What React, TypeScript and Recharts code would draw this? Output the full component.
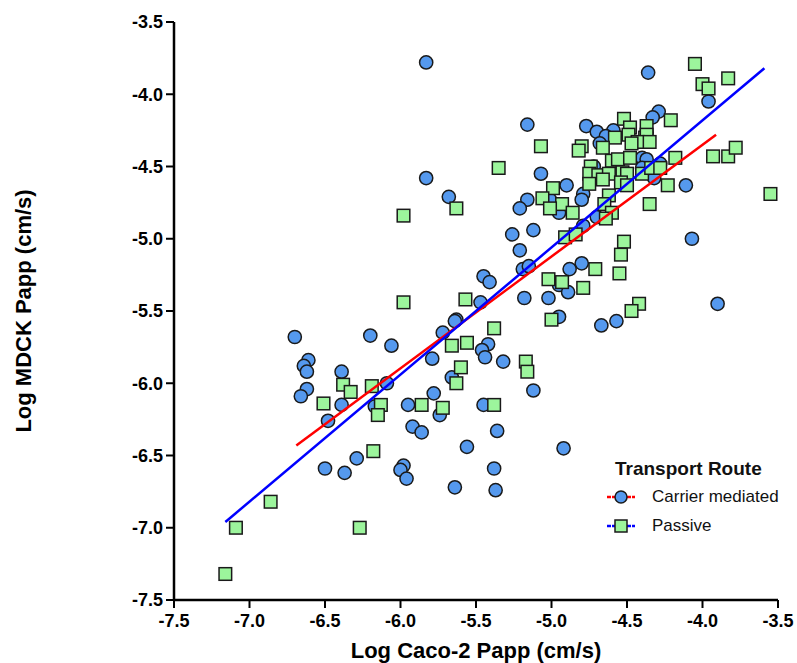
import { ScatterChart, Scatter, XAxis, YAxis } from "recharts";

// Log Caco-2 Papp (x), Log MDCK Papp (y)
const carrierPoints: [number, number][] = [
  [-5.83, -3.78], [-4.36, -3.85], [-3.96, -4.05], [-4.29, -4.12], [-4.33, -4.16],
  [-5.16, -4.21], [-4.77, -4.22], [-4.7, -4.26], [-4.59, -4.25], [-4.64, -4.29],
  [-4.68, -4.34], [-4.37, -4.27], [-4.4, -4.44], [-4.37, -4.45], [-4.28, -4.48],
  [-4.4, -4.51], [-4.72, -4.5], [-5.83, -4.58], [-5.07, -4.55], [-4.32, -4.58],
  [-4.11, -4.63], [-4.9, -4.63], [-5.68, -4.71], [-5.16, -4.73], [-5.21, -4.79],
  [-5.01, -4.73], [-4.79, -4.69], [-4.8, -4.73], [-4.95, -4.82], [-5.26, -4.97],
  [-5.12, -4.94], [-4.79, -4.91], [-4.7, -4.85], [-4.07, -5.0], [-5.21, -5.08],
  [-4.8, -5.17], [-4.88, -5.21], [-5.19, -5.21], [-5.15, -5.19], [-5.45, -5.26],
  [-5.41, -5.3], [-4.95, -5.32], [-4.89, -5.37], [-5.02, -5.41], [-5.18, -5.41],
  [-5.47, -5.44], [-3.9, -5.45], [-4.95, -5.54], [-5.63, -5.56], [-5.64, -5.57],
  [-4.67, -5.6], [-4.57, -5.57], [-5.72, -5.65], [-6.06, -5.74], [-5.79, -5.83],
  [-5.42, -5.73], [-5.46, -5.77], [-5.44, -5.82], [-5.32, -5.85], [-5.66, -5.96],
  [-6.09, -6.0], [-5.78, -6.07], [-5.12, -6.05], [-5.95, -6.15], [-5.45, -6.15],
  [-5.74, -6.22], [-5.92, -6.3], [-5.86, -6.34], [-5.36, -6.33], [-5.56, -6.44],
  [-4.92, -6.45], [-5.98, -6.57], [-6.0, -6.6], [-5.96, -6.66], [-5.38, -6.59],
  [-5.64, -6.72], [-5.37, -6.74], [-6.7, -5.68], [-6.2, -5.67], [-6.61, -5.84],
  [-6.64, -5.88], [-6.62, -5.92], [-6.39, -5.92], [-6.62, -6.04], [-6.66, -6.09],
  [-6.39, -6.15], [-6.17, -6.16], [-6.48, -6.26], [-6.5, -6.59], [-6.37, -6.62],
  [-6.29, -6.52],
];

const passivePoints: [number, number][] = [
  [-4.05, -3.79], [-3.83, -3.89], [-4.0, -3.93], [-3.96, -3.96], [-4.21, -4.18],
  [-4.52, -4.17], [-4.48, -4.23], [-4.37, -4.22], [-4.49, -4.28], [-4.58, -4.3],
  [-4.38, -4.3], [-4.37, -4.28], [-4.43, -4.33], [-4.47, -4.34], [-4.35, -4.33],
  [-5.07, -4.36], [-4.8, -4.36], [-4.82, -4.39], [-4.66, -4.37], [-5.35, -4.51],
  [-4.6, -4.46], [-4.56, -4.45], [-4.48, -4.44], [-4.18, -4.44], [-3.93, -4.43],
  [-3.83, -4.43], [-3.78, -4.37], [-4.74, -4.5], [-4.75, -4.55], [-4.69, -4.56],
  [-4.62, -4.55], [-4.53, -4.54], [-4.5, -4.55], [-4.4, -4.55], [-4.34, -4.51],
  [-4.28, -4.51], [-4.75, -4.62], [-4.66, -4.59], [-4.54, -4.61], [-4.5, -4.63],
  [-4.23, -4.63], [-4.99, -4.65], [-3.55, -4.69], [-5.06, -4.72], [-4.93, -4.76],
  [-5.01, -4.79], [-4.86, -4.82], [-4.62, -4.7], [-4.65, -4.76], [-4.6, -4.82],
  [-4.64, -4.86], [-4.35, -4.76], [-5.63, -4.79], [-5.98, -4.84], [-4.91, -4.99],
  [-4.84, -4.97], [-4.52, -5.02], [-4.54, -5.11], [-4.71, -5.21], [-4.55, -5.24],
  [-5.02, -5.28], [-4.93, -5.3], [-4.79, -5.34], [-5.98, -5.44], [-5.57, -5.42],
  [-5.0, -5.56], [-4.42, -5.45], [-4.47, -5.5], [-5.38, -5.62], [-5.66, -5.74],
  [-5.56, -5.72], [-5.6, -5.89], [-5.63, -6.0], [-5.17, -5.85], [-5.16, -5.92],
  [-5.86, -6.15], [-5.72, -6.17], [-5.38, -6.15], [-6.51, -6.14], [-6.38, -6.01],
  [-6.33, -6.06], [-6.19, -6.02], [-6.13, -6.15], [-6.15, -6.22], [-6.18, -6.47],
  [-6.86, -6.82], [-7.09, -7.0], [-6.27, -7.0], [-7.16, -7.32],
];

// regression line end points
const carrierFit: [number, number][] = [[-6.69, -6.43], [-3.91, -4.28]];
const passiveFit: [number, number][] = [[-7.16, -6.96], [-3.59, -3.82]];

const axisTicks = [-7.5, -7.0, -6.5, -6.0, -5.5, -5.0, -4.5, -4.0, -3.5];

const toXY = (pts: [number, number][]) => pts.map(([x, y]) => ({ x, y }));

const BLUE = "#5599EE";
const GREEN = "#9CF59C";

const CircleDot = (props: any) => (
  <circle cx={props.cx} cy={props.cy} r={6.6} fill={BLUE} stroke="#1a1a1a" strokeWidth={1.5} />
);

const SquareDot = (props: any) => (
  <rect
    x={props.cx - 6.3}
    y={props.cy - 6.3}
    width={12.6}
    height={12.6}
    fill={GREEN}
    stroke="#1a1a1a"
    strokeWidth={1.5}
  />
);

const NoDot = () => <g />;

const XTick = (p: any) => (
  <text x={p.x} y={p.y} dy="0.71em" textAnchor="middle" fill="#000" fontSize={18} fontWeight="bold">
    {p.payload.value.toFixed(1)}
  </text>
);

const YTick = (p: any) => (
  <text x={p.x} y={p.y} dy="0.355em" textAnchor="end" fill="#000" fontSize={18} fontWeight="bold">
    {p.payload.value.toFixed(1)}
  </text>
);

const LegendBox = () => (
  <div
    style={{
      position: "absolute",
      left: 600,
      top: 456,
      fontFamily: "'Liberation Sans', Arial, sans-serif",
      color: "#111",
    }}
  >
    <div style={{ fontWeight: "bold", fontSize: 19, marginLeft: 15, height: 26, lineHeight: "26px" }}>
      Transport Route
    </div>
    {[
      { name: "Carrier mediated", line: "#ff0000", square: false },
      { name: "Passive", line: "#0000ff", square: true },
    ].map((e) => (
      <div key={e.name} style={{ display: "flex", alignItems: "center", height: 29 }}>
        <svg width={36} height={16} style={{ marginLeft: 6 }}>
          <line x1={1} y1={8} x2={29} y2={8} stroke={e.line} strokeWidth={2.5} strokeDasharray="4 1" />
          {e.square ? (
            <rect x={9} y={2} width={12} height={12} fill={GREEN} stroke="#1a1a1a" strokeWidth={1.5} />
          ) : (
            <circle cx={15} cy={8} r={6} fill={BLUE} stroke="#1a1a1a" strokeWidth={1.5} />
          )}
        </svg>
        <span style={{ fontSize: 17, marginLeft: 10 }}>{e.name}</span>
      </div>
    ))}
  </div>
);

export default function App() {
  return (
    <div
      style={{
        position: "absolute",
        left: 0,
        top: 0,
        width: 797,
        height: 663,
        background: "#fff",
        fontFamily: "'Liberation Sans', Arial, sans-serif",
      }}
    >
      <ScatterChart width={797} height={663} margin={{ top: 22, right: 19, bottom: 3, left: 94 }}>
        <XAxis
          type="number"
          dataKey="x"
          domain={[-7.5, -3.5]}
          ticks={axisTicks}
          height={60}
          tickSize={8}
          tickMargin={6}
          axisLine={{ stroke: "#000", strokeWidth: 2.5 }}
          tickLine={{ stroke: "#000", strokeWidth: 2 }}
          tick={XTick}
          label={{
            value: "Log Caco-2 Papp (cm/s)",
            position: "insideBottom",
            offset: 2,
            style: { fill: "#000", fontSize: 22, fontWeight: "bold" },
          }}
        />
        <YAxis
          type="number"
          dataKey="y"
          domain={[-7.5, -3.5]}
          ticks={axisTicks}
          width={80}
          tickSize={8}
          tickMargin={3}
          axisLine={{ stroke: "#000", strokeWidth: 2.5 }}
          tickLine={{ stroke: "#000", strokeWidth: 2 }}
          tick={YTick}
          label={{
            content: (p: any) => {
              const cy = p.viewBox.y + p.viewBox.height / 2;
              return (
                <text
                  x={31}
                  y={cy}
                  transform={`rotate(-90 31 ${cy})`}
                  textAnchor="middle"
                  fill="#000"
                  fontSize={22}
                  fontWeight="bold"
                >
                  Log MDCK Papp (cm/s)
                </text>
              );
            },
          }}
        />
        <Scatter name="Carrier mediated" data={toXY(carrierPoints)} shape={CircleDot} isAnimationActive={false} />
        <Scatter name="Passive" data={toXY(passivePoints)} shape={SquareDot} isAnimationActive={false} />
        <Scatter
          data={toXY(carrierFit)}
          line={{ stroke: "#ff0000", strokeWidth: 2.5 }}
          shape={NoDot}
          isAnimationActive={false}
        />
        <Scatter
          data={toXY(passiveFit)}
          line={{ stroke: "#0000ff", strokeWidth: 2.5 }}
          shape={NoDot}
          isAnimationActive={false}
        />
      </ScatterChart>
      <LegendBox />
    </div>
  );
}
